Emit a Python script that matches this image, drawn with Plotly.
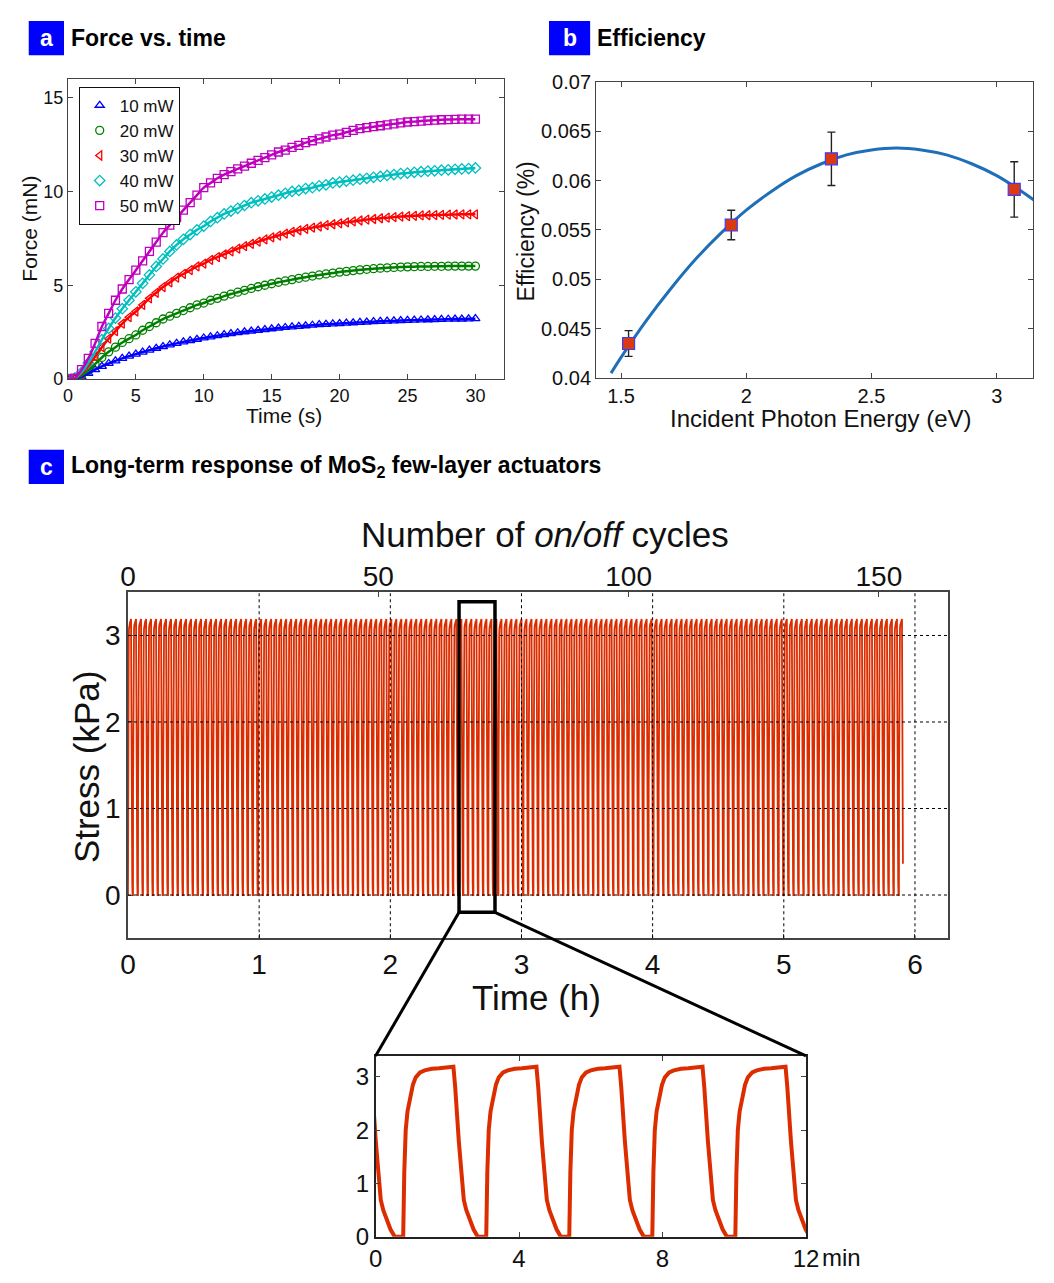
import plotly.graph_objects as go

# reference canvas size; the browser adds an 8 px body margin, so the
# figure itself is made 16 px smaller and every position is shifted by 8 px
REF_W, REF_H = 1054, 1283
OFF = 8
W, H = REF_W - 2 * OFF, REF_H - 2 * OFF
FONT = "Liberation Sans, Arial, sans-serif"

# ---------------- Panel a : Force vs. time ----------------
time_s = [i * 0.5 for i in range(61)]
force_10 = [0, 0.02, 0.12, 0.3, 0.5, 0.68, 0.83, 0.97, 1.1, 1.22, 1.33,
            1.44, 1.54, 1.64, 1.73, 1.82, 1.9, 1.98, 2.05, 2.12, 2.19,
            2.25, 2.31, 2.37, 2.42, 2.47, 2.52, 2.56, 2.6, 2.64, 2.68,
            2.72, 2.75, 2.78, 2.81, 2.84, 2.87, 2.9, 2.92, 2.94, 2.96,
            2.98, 3.0, 3.02, 3.04, 3.06, 3.08, 3.09, 3.1, 3.12, 3.13,
            3.14, 3.15, 3.16, 3.17, 3.18, 3.19, 3.2, 3.2, 3.21, 3.22]
force_20 = [0, 0.03, 0.2, 0.45, 0.8, 1.15, 1.45, 1.7, 1.95, 2.15, 2.35,
            2.6, 2.8, 3.0, 3.2, 3.35, 3.5, 3.65, 3.8, 3.95, 4.05,
            4.2, 4.3, 4.42, 4.53, 4.63, 4.73, 4.83, 4.92, 5.0, 5.08,
            5.16, 5.23, 5.3, 5.37, 5.43, 5.49, 5.55, 5.6, 5.65, 5.7,
            5.74, 5.78, 5.82, 5.85, 5.88, 5.91, 5.93, 5.95, 5.97, 5.98,
            5.99, 6.0, 6.0, 6.01, 6.01, 6.02, 6.02, 6.02, 6.02, 6.02]
force_30 = [0, 0.05, 0.3, 0.7, 1.2, 1.7, 2.15, 2.55, 2.95, 3.3, 3.6,
            3.95, 4.3, 4.6, 4.9, 5.15, 5.4, 5.6, 5.8, 6.0, 6.15,
            6.35, 6.5, 6.65, 6.8, 6.95, 7.08, 7.2, 7.32, 7.44, 7.55,
            7.65, 7.75, 7.85, 7.93, 8.0, 8.07, 8.13, 8.2, 8.25, 8.3,
            8.35, 8.4, 8.45, 8.5, 8.53, 8.57, 8.6, 8.63, 8.66, 8.68,
            8.7, 8.72, 8.73, 8.74, 8.75, 8.76, 8.77, 8.78, 8.78, 8.78]
force_40 = [0, 0.05, 0.35, 0.85, 1.45, 2.1, 2.7, 3.25, 3.75, 4.2, 4.65,
            5.1, 5.55, 6.0, 6.4, 6.8, 7.15, 7.45, 7.7, 7.95, 8.15,
            8.4, 8.6, 8.8, 8.95, 9.1, 9.25, 9.4, 9.5, 9.6, 9.7,
            9.8, 9.9, 10.0, 10.05, 10.15, 10.2, 10.3, 10.35, 10.45, 10.5,
            10.55, 10.6, 10.65, 10.7, 10.75, 10.8, 10.85, 10.9, 10.95, 10.98,
            11.02, 11.05, 11.08, 11.1, 11.13, 11.15, 11.18, 11.2, 11.22, 11.25]
force_50 = [0, 0.05, 0.5, 1.1, 1.9, 2.8, 3.5, 4.2, 4.8, 5.3, 5.8,
            6.3, 6.8, 7.3, 7.8, 8.2, 8.6, 9.0, 9.4, 9.8, 10.2,
            10.45, 10.7, 10.9, 11.05, 11.2, 11.35, 11.5, 11.65, 11.8, 11.95,
            12.1, 12.2, 12.35, 12.45, 12.6, 12.7, 12.8, 12.9, 13.0, 13.05,
            13.15, 13.25, 13.35, 13.4, 13.45, 13.5, 13.55, 13.6, 13.65, 13.7,
            13.72, 13.75, 13.78, 13.8, 13.82, 13.83, 13.84, 13.85, 13.85, 13.85]
power_labels = ["10 mW", "20 mW", "30 mW", "40 mW", "50 mW"]
power_colors = ["#0000ff", "#007f00", "#ff0000", "#00bfbf", "#bf00bf"]
power_symbols = ["triangle-up-open", "circle-open", "triangle-left-open",
                 "diamond-open", "square-open"]
force_series = [force_10, force_20, force_30, force_40, force_50]
a_xticks = [0, 5, 10, 15, 20, 25, 30]
a_yticks = [0, 5, 10, 15]

# ---------------- Panel b : Efficiency ----------------
photon_E = [1.53, 1.94, 2.34, 3.07]
eff = [0.0435, 0.0555, 0.0622, 0.0591]
eff_err = [0.0013, 0.0015, 0.0027, 0.0028]
fit_E = [1.46, 1.5, 1.6, 1.7, 1.8, 1.9, 2.0, 2.1, 2.2, 2.3, 2.4, 2.5,
         2.6, 2.7, 2.8, 2.9, 3.0, 3.1, 3.15]
fit_eff = [0.0405, 0.0421, 0.0458, 0.0491, 0.0521, 0.0547, 0.0570, 0.0589,
           0.0605, 0.0617, 0.0626, 0.0631, 0.0633, 0.0631, 0.0626, 0.0617,
           0.0605, 0.0589, 0.0580]
b_xticks = [1.5, 2, 2.5, 3]
b_yticks = [0.04, 0.045, 0.05, 0.055, 0.06, 0.065, 0.07]
b_yticktext = ["0.04", "0.045", "0.05", "0.055", "0.06", "0.065", "0.07"]

# ---------------- Panel c : long-term cycling ----------------
# one on/off cycle (minutes after light-on, kPa)
cycle_dt = [0, 0.03, 0.07, 0.12, 0.19, 0.27, 0.35, 0.47, 0.6, 0.8, 1.0, 1.2,
            1.4, 1.45, 1.49, 1.55, 1.6, 1.69, 1.76, 1.83, 1.96, 2.08]
cycle_val = [0, 1.2, 2.0, 2.35, 2.56, 2.85, 2.99, 3.08, 3.12, 3.15, 3.16, 3.17,
             3.19, 2.8, 2.25, 1.8, 1.4, 0.69, 0.5, 0.36, 0.14, 0.0]
main_period_min = 2.29
main_full_cycles = 154
main_last_dt = 1.83
inset_period_min = 2.315
inset_first_on = 0.77
c_xticks = [0, 1, 2, 3, 4, 5, 6]
c_yticks = [0, 1, 2, 3]
c_cycle_ticks = [0, 50, 100, 150]
inset_xticks = [0, 4, 8, 12]
inset_yticks = [0, 1, 2, 3]
zoom_box_t = [2.524, 2.798]
zoom_box_s = [-0.2, 3.39]


def tile(start, period, n_full, last_dt):
    xs, ys = [], []
    for k in range(n_full + 1):
        for dt, v in zip(cycle_dt, cycle_val):
            if k == n_full and dt > last_dt:
                break
            xs.append(start + k * period + dt)
            ys.append(v)
    return xs, ys


main_t_min, main_s = tile(0.0, main_period_min, main_full_cycles, main_last_dt)
main_t_h = [t / 60.0 for t in main_t_min]
inset_t, inset_s = tile(inset_first_on - inset_period_min, inset_period_min, 7, 0)

# ---------------- layout geometry (reference pixels -> paper) ----------------
def px(x):
    return (x - OFF) / W


def py(y):
    return 1 - (y - OFF) / H


A_X = [px(61), px(506)];    A_Y = [py(375), py(69)]
B_X = [px(600), 1.0];       B_Y = [py(374), py(72)]
C_X = [px(122.3), px(959)]; C_Y = [py(945), py(592.3)]
I_X = [px(375), px(814.3)]; I_Y = [py(1249.3), py(1065)]
A_XR = [0, 32.1];  A_YR = [0, 16]
B_XR = [1.4, 3.145]; B_YR = [0.04, 0.07]
C_XR = [0, 6.25];  C_YR = [-0.5, 3.5]
I_XR = [0, 12];    I_YR = [0, 3.39]
C_TOPR = [0, C_XR[1] * 60 / main_period_min]

fig = go.Figure()

# panel a traces
for lab, col, sym, ys in zip(power_labels, power_colors, power_symbols, force_series):
    fig.add_trace(go.Scatter(x=time_s, y=ys, mode="markers", name=lab,
                             marker=dict(symbol=sym, size=8, color=col,
                                         line=dict(width=1.3, color=col)),
                             xaxis="x", yaxis="y"))
for col, ys in zip(power_colors, force_series):
    fig.add_trace(go.Scatter(x=time_s, y=ys, mode="lines", showlegend=False,
                             line=dict(color=col, width=2.5, shape="spline"),
                             xaxis="x", yaxis="y", hoverinfo="skip"))

# panel b traces
fig.add_trace(go.Scatter(x=fit_E, y=fit_eff, mode="lines", showlegend=False,
                         line=dict(color="#1f6fb8", width=3, shape="spline"),
                         xaxis="x2", yaxis="y2"))
fig.add_trace(go.Scatter(x=photon_E, y=eff, mode="markers", showlegend=False,
                         marker=dict(symbol="square", size=12, color="#d93a14",
                                     line=dict(color="#3b3bff", width=1.2)),
                         error_y=dict(type="data", array=eff_err, color="#222222",
                                      thickness=1.4, width=4),
                         xaxis="x2", yaxis="y2"))

# panel c traces
fig.add_trace(go.Scatter(x=main_t_h, y=main_s, mode="lines", showlegend=False,
                         line=dict(color="#dc2d00", width=1.8),
                         xaxis="x3", yaxis="y3", hoverinfo="skip"))
fig.add_trace(go.Scatter(x=C_TOPR, y=[None, None], mode="lines", showlegend=False,
                         xaxis="x5", yaxis="y3", hoverinfo="skip"))
fig.add_trace(go.Scatter(x=inset_t, y=inset_s, mode="lines", showlegend=False,
                         line=dict(color="#dc2d00", width=4),
                         xaxis="x4", yaxis="y4", hoverinfo="skip"))

ax_common = dict(showline=True, linecolor="#444444", linewidth=1, ticks="inside",
                 ticklen=5, tickcolor="#444444", showgrid=False, zeroline=False,
                 color="#111111")

fig.update_layout(
    width=W, height=H, margin=dict(l=0, r=0, t=0, b=0), autosize=False,
    paper_bgcolor="white", plot_bgcolor="white",
    font=dict(family=FONT, color="#111111"),
    xaxis=dict(domain=A_X, range=A_XR, tickvals=a_xticks, anchor="y", mirror="ticks",
               tickfont=dict(size=18), **ax_common),
    yaxis=dict(domain=A_Y, range=A_YR, tickvals=a_yticks, anchor="x", mirror="ticks",
               tickfont=dict(size=18), **ax_common),
    xaxis2=dict(domain=B_X, range=B_XR, tickvals=b_xticks, anchor="y2", mirror="ticks",
                tickfont=dict(size=20), **ax_common),
    yaxis2=dict(domain=B_Y, range=B_YR, tickvals=b_yticks, ticktext=b_yticktext,
                anchor="x2", mirror="ticks", tickfont=dict(size=20), **ax_common),
    xaxis3=dict(domain=C_X, range=C_XR, tickvals=c_xticks, anchor="y3", mirror=True,
                tickfont=dict(size=28), layer="above traces",
                **{**ax_common, "linewidth": 1.5}),
    yaxis3=dict(domain=C_Y, range=C_YR, tickvals=c_yticks, anchor="x3", mirror=True,
                tickfont=dict(size=28), layer="above traces",
                **{**ax_common, "linewidth": 1.5}),
    xaxis5=dict(overlaying="x3", side="top", anchor="y3", range=C_TOPR,
                tickvals=c_cycle_ticks, showline=False, ticks="inside", ticklen=5,
                tickcolor="#444444", showgrid=False, zeroline=False,
                tickfont=dict(size=28, color="#111111")),
    xaxis4=dict(domain=I_X, range=I_XR, tickvals=inset_xticks, anchor="y4",
                mirror="ticks", tickfont=dict(size=24), layer="above traces",
                **{**ax_common, "linecolor": "#222222", "linewidth": 1.5}),
    yaxis4=dict(domain=I_Y, range=I_YR, tickvals=inset_yticks, anchor="x4",
                mirror="ticks", tickfont=dict(size=24), layer="above traces",
                **{**ax_common, "linecolor": "#222222", "linewidth": 1.5}),
    legend=dict(x=px(72), y=py(77), xanchor="left", yanchor="top",
                bordercolor="#111111", borderwidth=1, bgcolor="white",
                font=dict(size=17, family=FONT), itemwidth=30, tracegroupgap=0),
)

shapes = []
annotations = []

# panel label boxes
for (x0, x1, y0, y1, letter, title) in [
        (21, 57, 10, 45, "a", "Force vs. time"),
        (552, 594, 10, 45, "b", "Efficiency"),
        (21, 57, 447, 482, "c", "Long-term response of MoS<sub>2</sub> few-layer actuators")]:
    shapes.append(dict(type="rect", xref="paper", yref="paper", x0=px(x0), x1=px(x1),
                       y0=py(y1), y1=py(y0), fillcolor="#0000ff", line=dict(width=0)))
    annotations.append(dict(text="<b>%s</b>" % letter, xref="paper", yref="paper",
                            x=px((x0 + x1) / 2), y=py((y0 + y1) / 2), showarrow=False,
                            font=dict(size=23, color="white", family=FONT),
                            xanchor="center", yanchor="middle"))
    annotations.append(dict(text="<b>%s</b>" % title, xref="paper", yref="paper",
                            x=px(x1 + 5), y=py((y0 + y1) / 2), showarrow=False,
                            font=dict(size=23, color="black", family=FONT),
                            xanchor="left", yanchor="middle"))

# axis titles
def title(text, x, y, size, angle=0):
    annotations.append(dict(text=text, xref="paper", yref="paper", x=px(x), y=py(y),
                            showarrow=False, textangle=angle, xanchor="center",
                            yanchor="middle", font=dict(size=size, family=FONT,
                                                        color="#111111")))

title("Time (s)", 282, 412, 21)
title("Force (mN)", 22, 222, 21, -90)
title("Incident Photon Energy (eV)", 830, 415, 24)
title("Efficiency (%)", 528, 224, 23, -90)
title("Number of <i>on/off</i> cycles", 548, 533, 35)
title("Time (h)", 539, 1005, 35)
title("Stress (kPa)", 80, 770, 35, -90)
annotations.append(dict(text="min", xref="paper", yref="paper", x=px(829), y=py(1270),
                        showarrow=False, xanchor="left", yanchor="middle",
                        font=dict(size=24, family=FONT, color="#111111")))

# grid lines of panel c (drawn above the data, dashed)
for t in c_xticks[1:]:
    shapes.append(dict(type="line", xref="x3", yref="y3 domain", x0=t, x1=t, y0=0, y1=1,
                       line=dict(color="black", width=1, dash="3px,3px"), layer="above"))
for s in c_yticks:
    shapes.append(dict(type="line", xref="x3 domain", yref="y3", x0=0, x1=1, y0=s, y1=s,
                       line=dict(color="black", width=1, dash="3px,3px"), layer="above"))

# zoom box and connectors
shapes.append(dict(type="rect", xref="x3", yref="y3", x0=zoom_box_t[0], x1=zoom_box_t[1],
                   y0=zoom_box_s[0], y1=zoom_box_s[1],
                   line=dict(color="black", width=3.5), layer="above"))


def to_paper(v, dom, rng):
    return dom[0] + (v - rng[0]) / (rng[1] - rng[0]) * (dom[1] - dom[0])


bx0 = to_paper(zoom_box_t[0], C_X, C_XR)
bx1 = to_paper(zoom_box_t[1], C_X, C_XR)
by0 = to_paper(zoom_box_s[0], C_Y, C_YR)
ix0 = to_paper(I_XR[0], I_X, I_XR)
ix1 = to_paper(I_XR[1], I_X, I_XR)
iy1 = to_paper(I_YR[1], I_Y, I_YR)
shapes.append(dict(type="line", xref="paper", yref="paper", x0=bx0, y0=by0, x1=ix0, y1=iy1,
                   line=dict(color="black", width=3)))
shapes.append(dict(type="line", xref="paper", yref="paper", x0=bx1, y0=by0, x1=ix1, y1=iy1,
                   line=dict(color="black", width=3)))

fig.update_layout(shapes=shapes, annotations=annotations)
fig.write_html("out.html", config={"displayModeBar": False})
